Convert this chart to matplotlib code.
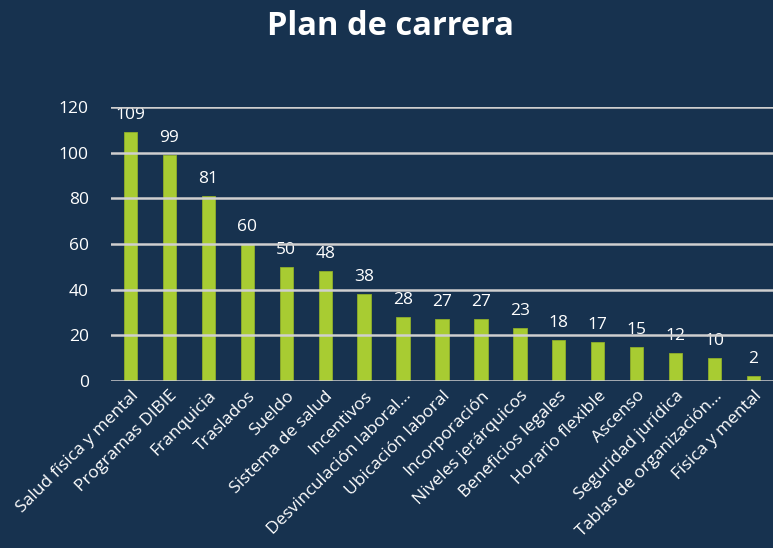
import matplotlib.pyplot as plt

# ---------------------------------------------------------------------------
# Data
# ---------------------------------------------------------------------------

CATEGORIES = [
    "Salud física y mental", "Programas DIBIE", "Franquicia", "Traslados",
    "Sueldo", "Sistema de salud", "Incentivos", "Desvinculación laboral...",
    "Ubicación laboral", "Incorporación", "Niveles jerárquicos",
    "Beneficios legales", "Horario flexible", "Ascenso",
    "Seguridad jurídica", "Tablas de organización...", "Física y mental",
]
VALUES = [109, 99, 81, 60, 50, 48, 38, 28, 27, 27, 23, 18, 17, 15, 12, 10, 2]
Y_TICKS = [0, 20, 40, 60, 80, 100, 120]

BG = "#17324f"
BAR = "#a8cc32"
GRID = "#cfcfcf"

plt.rcParams["font.family"] = ["Open Sans", "DejaVu Sans"]

fig = plt.figure(figsize=(7.73, 5.48), dpi=100, facecolor=BG)
ax = fig.add_axes([0.1436, 0.305, 0.8564, 0.4995], facecolor=BG)

x = range(len(CATEGORIES))
ax.bar(x, VALUES, width=0.34, color=BAR, edgecolor="#8fae2a", linewidth=0.6, zorder=2)

for xi, v in zip(x, VALUES):
    ax.text(xi, v + 4, str(v), ha="center", va="bottom", color="white",
            fontsize=12.5, zorder=1)

ax.set_xlim(-0.5, len(CATEGORIES) - 0.5)
ax.set_ylim(0, 120)
ax.set_yticks(Y_TICKS)
ax.yaxis.grid(True, color=GRID, linewidth=1.8, zorder=3)
ax.set_axisbelow(False)
for s in ax.spines.values():
    s.set_visible(False)
ax.tick_params(axis="both", length=0, colors="white")
ax.tick_params(axis="y", pad=16, labelsize=12.5)
ax.set_xticks(list(x))
ax.set_xticklabels(CATEGORIES, rotation=45, ha="right", rotation_mode="anchor",
                   fontsize=12.5, color="white")
ax.tick_params(axis="x", pad=5)

fig.text(0.505, 0.952, "Plan de carrera", ha="center", va="center",
         color="white", fontsize=23.5, fontweight="bold")

fig.savefig("out.png", dpi=100, facecolor=BG)
